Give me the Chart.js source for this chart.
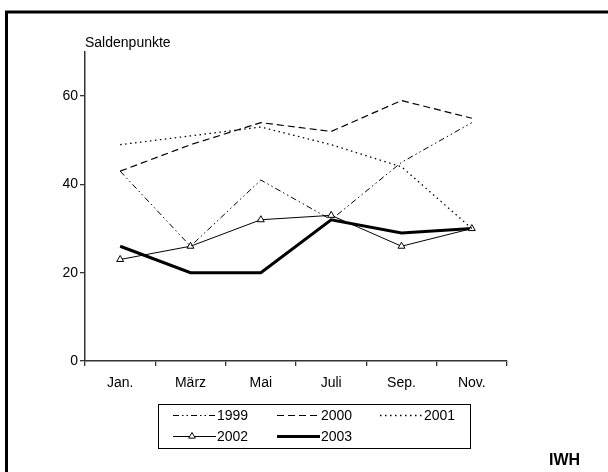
<!DOCTYPE html>
<html>
<head>
<meta charset="utf-8">
<script src="https://cdn.jsdelivr.net/npm/chart.js@4.4.1/dist/chart.umd.min.js"></script>
<style>
  html, body { margin: 0; padding: 0; background: #fff; }
  #wrap { position: relative; width: 608px; height: 472px; overflow: hidden; }
</style>
</head>
<body>
<div id="wrap"><canvas id="myChart" width="608" height="472"></canvas></div>
<script>
const labels = ['Jan.', 'März', 'Mai', 'Juli', 'Sep.', 'Nov.']
const v1999 = [43, 26, 41, 32, 45, 54]
const v2000 = [43, 49, 54, 52, 59, 55]
const v2001 = [49, 51, 53, 49, 44, 30]
const v2002 = [23, 26, 32, 33, 26, 30]
const v2003 = [26, 20, 20, 32, 29, 30]
const yTicks = [0, 20, 40, 60]
const yMax = 70

const FONT = '"Liberation Sans", Arial, sans-serif'

const drawTriangle = (c, x, y, r) => {
    c.beginPath()
    c.moveTo(x, y - r)
    c.lineTo(x + r * 0.95, y + r * 0.6)
    c.lineTo(x - r * 0.95, y + r * 0.6)
    c.closePath()
    c.fillStyle = '#fff'
    c.fill()
    c.stroke()
}

// frame, axis title, legend box and source mark
const extras = {
    id: 'extras',
    beforeDraw(chart) {
        const c = chart.ctx
        c.save()
        c.fillStyle = '#fff'
        c.fillRect(0, 0, chart.width, chart.height)
        c.strokeStyle = '#000'
        c.lineWidth = 3
        c.beginPath()
        c.moveTo(6.5, chart.height)
        c.lineTo(6.5, 12)
        c.lineTo(chart.width, 12)
        c.stroke()
        c.restore()
    },
    afterDraw(chart) {
        const c = chart.ctx
        c.save()
        c.fillStyle = '#000'
        c.font = '14px ' + FONT
        c.textBaseline = 'alphabetic'
        c.fillText('Saldenpunkte', 85, 47)

        c.strokeStyle = '#000'
        c.lineWidth = 1
        c.strokeRect(158.5, 404.5, 312, 44)
        const slots = [[173, 415], [277, 415], [380, 415], [173, 436], [277, 436]]
        chart.data.datasets.forEach((ds, i) => {
            const [x, y] = slots[i]
            c.setLineDash(ds.borderDash || [])
            c.lineWidth = ds.borderWidth
            c.strokeStyle = ds.borderColor
            c.beginPath()
            c.moveTo(x, y + 0.5)
            c.lineTo(x + 43, y + 0.5)
            c.stroke()
            c.setLineDash([])
            if (ds.pointRadius > 0) {
                c.lineWidth = 1
                drawTriangle(c, x + 19, y, 3.5)
            }
            c.fillStyle = '#000'
            c.font = '14px ' + FONT
            c.textBaseline = 'middle'
            c.fillText(ds.label, x + 44, y + 1)
        })

        c.font = 'bold 16px ' + FONT
        c.textBaseline = 'alphabetic'
        c.fillText('IWH', 549, 465)
        c.restore()
    }
}

const ctx = document.getElementById('myChart').getContext('2d')
const myChart = new Chart(ctx, {
    type: 'line',
    data: {
        labels: labels,
        datasets: [
            { label: '1999', data: v1999, borderColor: '#000', borderWidth: 1, borderDash: [6, 3, 1.5, 3, 1.5, 3], pointRadius: 0, tension: 0 },
            { label: '2000', data: v2000, borderColor: '#000', borderWidth: 1.2, borderDash: [7, 4], pointRadius: 0, tension: 0 },
            { label: '2001', data: v2001, borderColor: '#000', borderWidth: 1.3, borderDash: [1.5, 3.5], pointRadius: 0, tension: 0 },
            { label: '2002', data: v2002, borderColor: '#000', borderWidth: 1, pointStyle: 'triangle', pointRadius: 4, pointBorderWidth: 1, pointBackgroundColor: '#fff', pointBorderColor: '#000', tension: 0 },
            { label: '2003', data: v2003, borderColor: '#000', borderWidth: 3, pointRadius: 0, tension: 0 }
        ]
    },
    options: {
        responsive: false,
        animation: false,
        layout: { padding: { left: 0, right: 101, top: 52, bottom: 0 } },
        plugins: { legend: { display: false }, tooltip: { enabled: false } },
        scales: {
            x: {
                offset: true,
                grid: { offset: true, drawOnChartArea: false, drawTicks: true, tickLength: 5, color: '#333', lineWidth: 1.3 },
                border: { color: '#333', width: 1.5 },
                ticks: { color: '#000', font: { family: FONT, size: 14 }, padding: 9, maxRotation: 0 },
                afterFit: (scale) => { scale.height = 111 }
            },
            y: {
                min: 0,
                max: yMax,
                afterBuildTicks: (scale) => { scale.ticks = yTicks.map(v => ({ value: v })) },
                grid: { drawOnChartArea: false, drawTicks: true, tickLength: 5, color: '#333', lineWidth: 1.3 },
                border: { color: '#333', width: 1.5 },
                ticks: { color: '#000', font: { family: FONT, size: 14 }, padding: 2 },
                afterFit: (scale) => { scale.width = 85 }
            }
        }
    },
    plugins: [extras]
})
</script>
</body>
</html>
